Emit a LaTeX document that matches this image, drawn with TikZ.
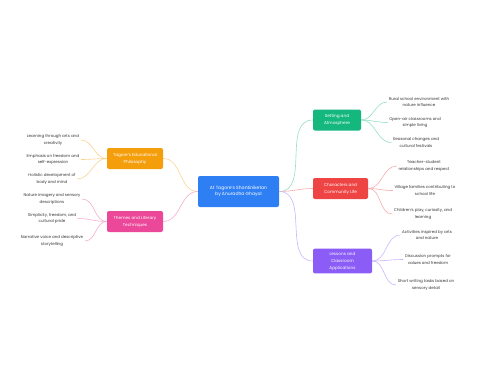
\documentclass[tikz,border=0pt]{standalone}
\usepackage{fontspec}
\setmainfont{Poppins}
\usetikzlibrary{positioning}

\definecolor{rootblue}{HTML}{2F7FF4}
\definecolor{eduorange}{HTML}{F59E0B}
\definecolor{themepink}{HTML}{EC4899}
\definecolor{setgreen}{HTML}{14B87F}
\definecolor{charred}{HTML}{EF4444}
\definecolor{lessonpurple}{HTML}{8B5CF6}

\begin{document}
\begin{tikzpicture}[
  x=1pt, y=-1pt,
  root/.style={rectangle, rounded corners=2pt, minimum width=81pt, minimum height=31pt,
    align=center, fill=rootblue, text=white, font=\fontsize{4.5}{6.7}\selectfont},
  branch/.style={rectangle, rounded corners=2pt, minimum width=56pt, minimum height=21pt,
    align=center, text=white, font=\fontsize{4.2}{7}\selectfont},
  leaf/.style={align=center, inner sep=1.5pt, text=black!80, font=\fontsize{4}{6.3}\selectfont},
  link/.style={line width=0.6pt}
]
\useasboundingbox (0,0) rectangle (480,384);

\node (root) [root] at (238.5,191.5) {At Tagore's Shantiniketan\\by Anuradha Ghayal};

% left side
\node (edu) [branch, fill=eduorange] at (135,158.5) {Tagore's Educational\\Philosophy};
\node (theme) [branch, fill=themepink] at (135,221.5) {Themes and Literary\\Techniques};

\node (edu1) [leaf] at (53,140) {Learning through arts and\\creativity};
\node (edu2) [leaf] at (53,159.5) {Emphasis on freedom and\\self-expression};
\node (edu3) [leaf] at (52,179) {Holistic development of\\body and mind};

\node (theme1) [leaf] at (52,199) {Nature imagery and sensory\\descriptions};
\node (theme2) [leaf] at (52,218.5) {Simplicity, freedom, and\\cultural pride};
\node (theme3) [leaf] at (52,241) {Narrative voice and descriptive\\storytelling};

% right side
\node (set) [branch, fill=setgreen, minimum width=48pt] at (337,120) {Setting and\\Atmosphere};
\node (char) [branch, fill=charred, minimum width=55pt] at (340.5,188.5) {Characters and\\Community Life};
\node (lesson) [branch, fill=lessonpurple, minimum width=59pt, minimum height=22pt] at (342.5,261) {Lessons and\\Classroom\\Applications};

\node (set1) [leaf] at (419,102) {Rural school environment with\\nature influence};
\node (set2) [leaf] at (415,122.5) {Open-air classrooms and\\simple living};
\node (set3) [leaf] at (416,142.5) {Seasonal changes and\\cultural festivals};

\node (char1) [leaf] at (424,166) {Teacher-student\\relationships and respect};
\node (char2) [leaf] at (425,190.5) {Village families contributing to\\school life};
\node (char3) [leaf] at (423,214) {Children's play, curiosity, and\\learning};

\node (lesson1) [leaf] at (427,235) {Activities inspired by arts\\and nature};
\node (lesson2) [leaf] at (428,259.5) {Discussion prompts for\\values and freedom};
\node (lesson3) [leaf] at (426,285) {Short writing tasks based on\\sensory detail};

% root to branches
\draw [link, eduorange!45] (root.west) to[out=180, in=0] (edu.east);
\draw [link, themepink!45] (root.west) to[out=180, in=0] (theme.east);
\draw [link, setgreen!45] (root.east) to[out=0, in=180] (set.west);
\draw [link, charred!45] (root.east) to[out=0, in=180] (char.west);
\draw [link, lessonpurple!45] (root.east) to[out=0, in=180] (lesson.west);

% branches to leaves
\foreach \n in {1,2,3} {
  \draw [link, eduorange!45] (edu.west) to[out=180, in=0] (edu\n.east);
  \draw [link, themepink!45] (theme.west) to[out=180, in=0] (theme\n.east);
  \draw [link, setgreen!45] (set.east) to[out=0, in=180] (set\n.west);
  \draw [link, charred!45] (char.east) to[out=0, in=180] (char\n.west);
  \draw [link, lessonpurple!45] (lesson.east) to[out=0, in=180] (lesson\n.west);
}

\end{tikzpicture}
\end{document}
